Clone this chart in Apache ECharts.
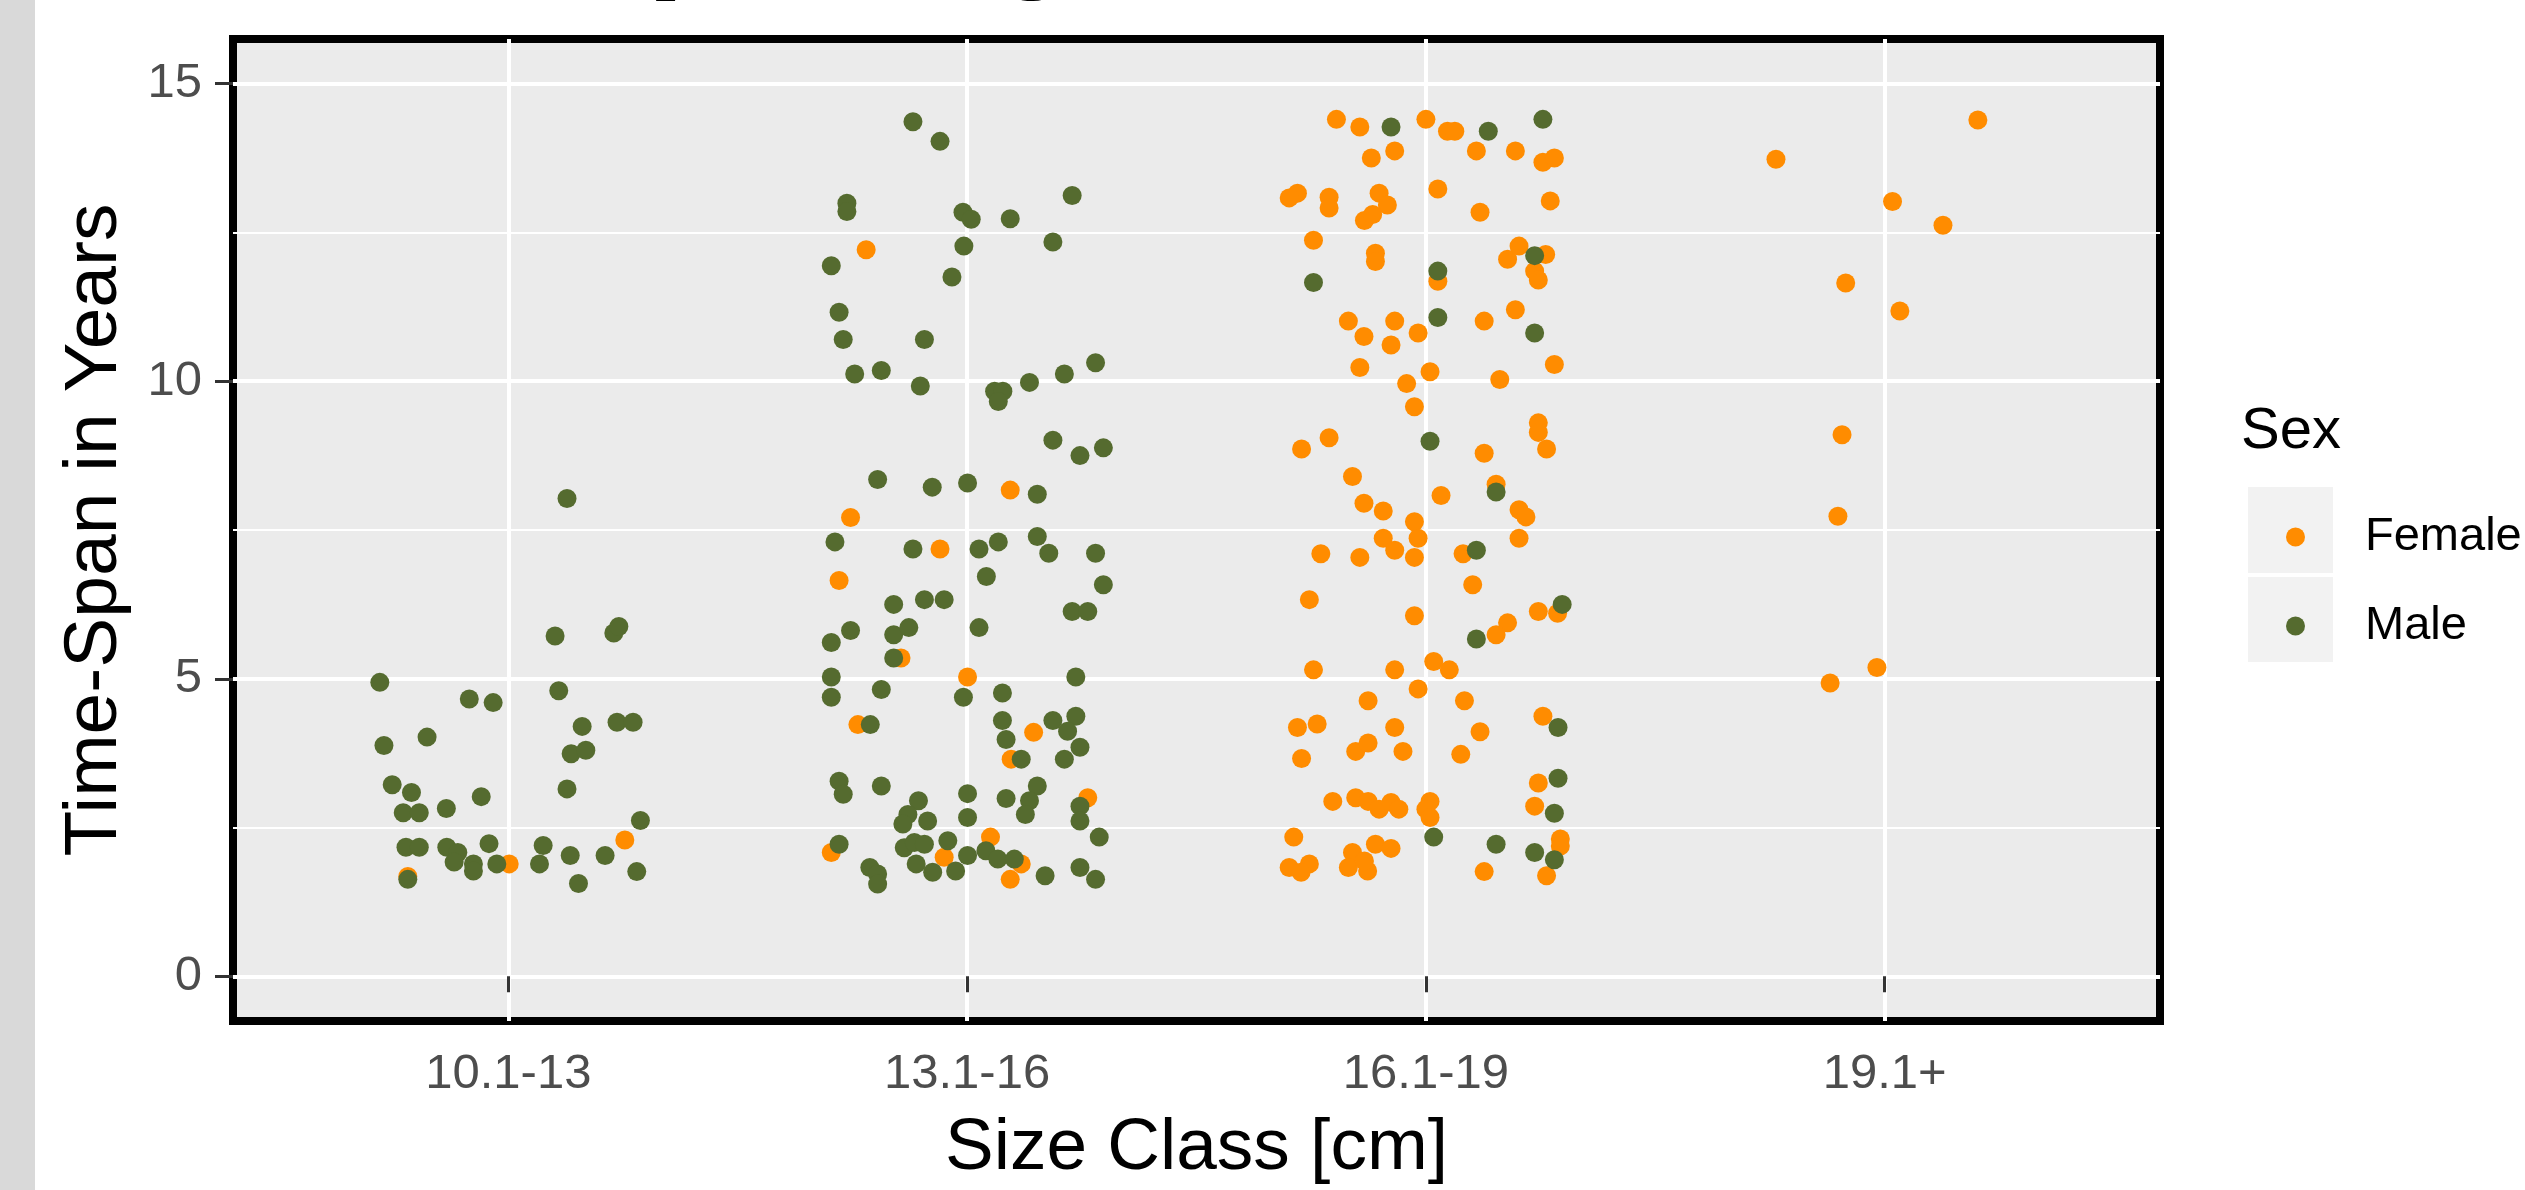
<!DOCTYPE html>
<html>
<head>
<meta charset="utf-8">
<title>Time-Span by Size Class</title>
<script src="https://cdn.jsdelivr.net/npm/echarts@6.0.0/dist/echarts.min.js"></script>
<style>
html, body { margin: 0; padding: 0; background: #fff; }
#main { width: 2525px; height: 1190px; }
</style>
</head>
<body>
<div id="main"></div>
<script>
// size classes on the x axis (positions 1..4)
var sizeClasses = ['10.1-13', '13.1-16', '16.1-19', '19.1+'];
var yTicks = [0, 5, 10, 15];
var yMinor = [2.5, 7.5, 12.5];

// points per size class: [jitter offset from class centre, years]
var female1 = [[0.254, 2.29], [0.002, 1.89], [-0.219, 1.68]];
var male1 = [
	[0.128, 8.03], [0.102, 5.72], [0.230, 5.77], [0.241, 5.88], [-0.280, 4.94], [-0.085, 4.66],
	[-0.033, 4.60], [0.110, 4.80], [0.161, 4.20], [0.237, 4.27], [0.272, 4.27], [-0.271, 3.88],
	[-0.177, 4.02], [0.137, 3.74], [0.169, 3.80], [-0.253, 3.22], [-0.211, 3.09], [-0.229, 2.75],
	[-0.194, 2.75], [-0.135, 2.82], [-0.059, 3.02], [0.128, 3.15], [0.288, 2.62], [-0.223, 2.17],
	[-0.194, 2.17], [-0.134, 2.17], [-0.110, 2.08], [-0.118, 1.92], [-0.076, 1.89], [-0.076, 1.77],
	[-0.042, 2.23], [-0.025, 1.89], [-0.219, 1.63], [0.076, 2.20], [0.068, 1.89], [0.135, 2.03],
	[0.211, 2.03], [0.280, 1.76], [0.153, 1.56]
];

var female2 = [
	[-0.220, 12.21], [0.094, 8.17], [-0.254, 7.71], [-0.059, 7.18], [-0.279, 6.65], [-0.144, 5.35],
	[0.001, 5.03], [-0.238, 4.23], [0.145, 4.10], [0.096, 3.65], [0.263, 3.00], [0.051, 2.34],
	[-0.296, 2.08], [-0.050, 2.00], [0.118, 1.89], [0.094, 1.63]
];
var male2 = [
	[-0.118, 14.36], [-0.059, 14.03], [-0.262, 12.99], [-0.262, 12.85], [-0.009, 12.84], [0.009, 12.72],
	[0.094, 12.73], [0.229, 13.12], [-0.007, 12.27], [0.187, 12.34], [-0.296, 11.94], [-0.033, 11.75],
	[-0.279, 11.16], [-0.270, 10.70], [-0.093, 10.70], [-0.245, 10.12], [-0.187, 10.18], [-0.102, 9.92],
	[0.280, 10.31], [0.212, 10.12], [0.136, 9.98], [0.060, 9.83], [0.078, 9.83], [0.068, 9.66],
	[0.187, 9.01], [0.246, 8.75], [0.297, 8.88], [-0.195, 8.35], [-0.076, 8.22], [0.001, 8.29],
	[0.153, 8.10], [-0.288, 7.30], [-0.118, 7.18], [0.026, 7.18], [0.068, 7.30], [0.153, 7.39],
	[0.178, 7.11], [0.280, 7.11], [0.042, 6.72], [0.297, 6.58], [-0.160, 6.25], [-0.093, 6.33],
	[-0.050, 6.33], [0.229, 6.13], [0.263, 6.13], [-0.254, 5.81], [-0.296, 5.61], [-0.160, 5.74],
	[-0.127, 5.86], [0.026, 5.86], [-0.160, 5.35], [-0.296, 5.03], [-0.296, 4.69], [0.237, 5.03],
	[-0.187, 4.82], [-0.008, 4.69], [0.077, 4.76], [-0.211, 4.23], [0.077, 4.30], [0.085, 3.98],
	[0.187, 4.30], [0.237, 4.37], [0.219, 4.12], [0.246, 3.85], [0.212, 3.65], [0.118, 3.65],
	[-0.279, 3.28], [-0.270, 3.06], [-0.187, 3.20], [-0.106, 2.95], [-0.129, 2.72], [-0.086, 2.61],
	[-0.140, 2.56], [0.001, 3.07], [0.001, 2.67], [0.085, 2.99], [0.153, 3.20], [0.136, 2.95],
	[0.127, 2.72], [0.246, 2.86], [0.246, 2.61], [0.288, 2.34], [-0.279, 2.22], [-0.212, 1.83],
	[-0.195, 1.72], [-0.195, 1.55], [-0.137, 2.16], [-0.115, 2.25], [-0.093, 2.22], [-0.111, 1.89],
	[-0.075, 1.75], [-0.042, 2.28], [-0.025, 1.77], [0.001, 2.03], [0.041, 2.11], [0.067, 1.97],
	[0.103, 1.97], [0.170, 1.69], [0.246, 1.83], [0.280, 1.63]
];

var female3 = [
	[-0.195, 14.40], [-0.144, 14.27], [0.000, 14.40], [0.047, 14.20], [0.063, 14.20], [-0.068, 13.87],
	[-0.119, 13.75], [0.110, 13.87], [0.195, 13.87], [0.255, 13.68], [0.280, 13.75], [-0.280, 13.16],
	[-0.298, 13.08], [-0.211, 13.09], [-0.211, 12.91], [-0.102, 13.16], [-0.084, 12.96], [-0.134, 12.70],
	[-0.116, 12.80], [0.026, 13.23], [0.118, 12.84], [0.271, 13.03], [-0.245, 12.37], [-0.110, 12.15],
	[-0.110, 12.01], [0.026, 11.68], [0.178, 12.05], [0.203, 12.27], [0.261, 12.13], [0.237, 11.85],
	[0.245, 11.70], [-0.169, 11.01], [-0.135, 10.75], [-0.068, 11.01], [-0.076, 10.61], [-0.017, 10.81],
	[0.127, 11.01], [0.195, 11.20], [-0.144, 10.23], [0.009, 10.16], [-0.042, 9.96], [0.161, 10.03],
	[0.280, 10.28], [-0.025, 9.57], [0.245, 9.30], [0.245, 9.14], [0.263, 8.86], [-0.211, 9.05],
	[-0.271, 8.86], [0.127, 8.79], [-0.160, 8.40], [0.153, 8.27], [0.033, 8.08],
	[-0.135, 7.95], [-0.093, 7.82], [0.203, 7.84], [0.218, 7.72], [-0.025, 7.64], [-0.017, 7.36],
	[-0.093, 7.36], [-0.068, 7.16], [-0.025, 7.04], [-0.229, 7.10], [-0.144, 7.04], [0.203, 7.36],
	[0.081, 7.10], [0.102, 6.58], [-0.254, 6.33], [-0.025, 6.06], [0.245, 6.13], [0.287, 6.10],
	[0.178, 5.94], [0.153, 5.74], [-0.245, 5.15], [-0.068, 5.15], [0.017, 5.29], [0.051, 5.15],
	[-0.017, 4.83], [-0.126, 4.63], [0.084, 4.63], [0.255, 4.37], [-0.280, 4.18], [-0.237, 4.24],
	[-0.068, 4.18], [0.118, 4.11], [-0.153, 3.78], [-0.126, 3.92], [-0.050, 3.78], [-0.271, 3.66],
	[0.076, 3.73], [0.245, 3.25], [-0.203, 2.94], [-0.153, 3.00], [-0.126, 2.94], [-0.102, 2.81],
	[-0.076, 2.92], [-0.059, 2.81], [0.009, 2.94], [0.000, 2.81], [0.009, 2.67], [0.237, 2.86],
	[-0.288, 2.34], [0.293, 2.31], [0.293, 2.19], [0.263, 1.69], [0.127, 1.76], [-0.298, 1.83],
	[-0.254, 1.89], [-0.272, 1.75], [-0.160, 2.08], [-0.169, 1.83], [-0.127, 1.77], [-0.110, 2.22],
	[-0.076, 2.15], [-0.134, 1.94]
];
var male3 = [
	[-0.076, 14.27], [0.136, 14.20], [0.255, 14.40], [0.026, 11.85], [0.237, 12.11], [-0.245, 11.66],
	[0.026, 11.07], [0.237, 10.81], [0.009, 8.99], [0.153, 8.14], [0.110, 7.16], [0.297, 6.25],
	[0.110, 5.67], [0.288, 4.18], [0.288, 3.33], [0.280, 2.74], [0.017, 2.34], [0.153, 2.22],
	[0.237, 2.08], [0.280, 1.96]
];

var female4 = [
	[0.203, 14.39], [-0.237, 13.73], [0.017, 13.02], [0.127, 12.62], [-0.085, 11.65], [0.033, 11.18],
	[-0.093, 9.10], [-0.102, 7.73], [-0.017, 5.19], [-0.119, 4.93]
];

var FONT = '"Liberation Sans", Arial, sans-serif';

function place(cls, pts) {
	return pts.map(function (p) { return [cls + p[0], p[1]]; });
}

var myChart = echarts.init(document.getElementById('main'));

myChart.setOption({
	animation: false,
	backgroundColor: '#fff',
	graphic: [
		{ type: 'rect', shape: { x: 0, y: 0, width: 35, height: 1190 }, style: { fill: '#D9D9D9' }, silent: true },
		{
			// plot title sits mostly above the visible area; only descenders show
			type: 'text', x: 189, y: -66, silent: true,
			style: { text: 'Time-Span by Size Class', font: 'bold 138px ' + FONT, fill: '#000', verticalAlign: 'middle', align: 'left' }
		},
		{
			type: 'text', x: 2241, y: 432, silent: true,
			style: { text: 'Sex', font: '58px ' + FONT, fill: '#000', verticalAlign: 'middle', align: 'left' }
		},
		{ type: 'rect', shape: { x: 2248, y: 487, width: 85, height: 86 }, style: { fill: '#F2F2F2' }, silent: true },
		{ type: 'rect', shape: { x: 2248, y: 577, width: 85, height: 85 }, style: { fill: '#F2F2F2' }, silent: true }
	],
	legend: {
		data: ['Female', 'Male'],
		orient: 'vertical',
		left: 2281,
		top: 507,
		icon: 'circle',
		itemWidth: 19,
		itemHeight: 19,
		itemGap: 39,
		selectedMode: false,
		textStyle: { fontFamily: FONT, fontSize: 47, color: '#000', lineHeight: 50, padding: [0, 0, 0, 55] }
	},
	grid: {
		left: 233, top: 39, right: 365, bottom: 166,
		show: true,
		backgroundColor: '#EBEBEB',
		borderColor: '#000',
		borderWidth: 8
	},
	xAxis: {
		type: 'value', min: 0.4, max: 4.6,
		name: 'Size Class [cm]', nameLocation: 'middle', nameGap: 91,
		nameTextStyle: { fontFamily: FONT, fontSize: 73, color: '#000' },
		axisLine: { show: false },
		axisTick: { show: true, customValues: [1, 2, 3, 4], length: 16, lineStyle: { color: '#333', width: 3 } },
		axisLabel: {
			customValues: [1, 2, 3, 4],
			formatter: function (v) { return sizeClasses[Math.round(v) - 1]; },
			margin: 29, fontFamily: FONT, fontSize: 49, color: '#4D4D4D'
		},
		splitLine: { show: true, lineStyle: { color: '#fff', width: 4 } }
	},
	yAxis: [{
		type: 'value', min: -0.75, max: 15.75,
		name: 'Time-Span in Years', nameLocation: 'middle', nameGap: 100, nameRotate: 90,
		nameTextStyle: { fontFamily: FONT, fontSize: 75, color: '#000' },
		axisLine: { show: false },
		axisTick: { show: true, customValues: yTicks, length: 18, lineStyle: { color: '#333', width: 3 } },
		axisLabel: { customValues: yTicks, margin: 31, fontFamily: FONT, fontSize: 49, color: '#4D4D4D' },
		splitLine: { show: true, lineStyle: { color: '#fff', width: 4 } }
	}, {
		type: 'value', min: -0.75, max: 15.75,
		axisLine: { show: false },
		axisTick: { show: false, customValues: yMinor },
		axisLabel: { show: false, customValues: yMinor },
		splitLine: { show: true, lineStyle: { color: '#fff', width: 2 } }
	}],
	series: [{
		name: 'Female',
		type: 'scatter',
		symbolSize: 19,
		itemStyle: { color: '#FF8C00', opacity: 1 },
		emphasis: { disabled: true },
		data: [].concat(place(1, female1), place(2, female2), place(3, female3), place(4, female4))
	}, {
		name: 'Male',
		type: 'scatter',
		symbolSize: 19,
		itemStyle: { color: '#556B2F', opacity: 1 },
		emphasis: { disabled: true },
		data: [].concat(place(1, male1), place(2, male2), place(3, male3))
	}]
});

window.addEventListener('resize', function () {
	myChart.resize();
});
</script>
</body>
</html>
